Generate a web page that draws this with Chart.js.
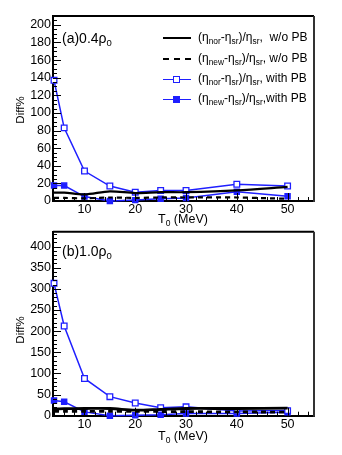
<!DOCTYPE html>
<html>
<head>
<meta charset="utf-8">
<script src="https://cdn.jsdelivr.net/npm/chart.js@4"></script>
<style>
  body { margin: 0; background: #fff; font-family: "Liberation Sans", Arial, sans-serif; }
  #wrap { position: relative; width: 342px; height: 455px; overflow: hidden; }
  canvas { position: absolute; left: 0; }
  .lbl { position: absolute; white-space: nowrap; color: #000; }
  .lbl sub { font-size: 0.68em; vertical-align: -0.35em; line-height: 0; }
  .leg { position: absolute; left: 163px; font-size: 12px; white-space: nowrap; }
  .leg .smp { position: absolute; left: 0; top: 0; width: 28px; height: 1px; }
  .leg .txt { position: absolute; left: 35px; top: -8px; }
  .leg sub { font-size: 0.7em; vertical-align: -0.35em; line-height: 0; }
  .ytitle { position: absolute; font-size: 11.5px; transform: translate(-50%, -50%) rotate(-90deg); }
</style>
</head>
<body>
<div id="wrap">
  <canvas id="top" width="342" height="222" style="top:0"></canvas>
  <canvas id="bot" width="342" height="233" style="top:222px"></canvas>

  <div class="lbl" style="left:62px; top:30px; font-size:14px">(a)0.4ρ<sub>0</sub></div>
  <div class="lbl" style="left:62px; top:243px; font-size:14px">(b)1.0ρ<sub>0</sub></div>

  <div class="ytitle" style="left:20px; top:110px">Diff%</div>
  <div class="ytitle" style="left:20px; top:330px">Diff%</div>

  <div class="lbl" style="left:158px; top:212px; font-size:12.5px">T<sub>0</sub> (MeV)</div>
  <div class="lbl" style="left:158px; top:429px; font-size:12.5px">T<sub>0</sub> (MeV)</div>

  <div class="leg" style="top:38px">
    <div class="smp" style="border-top:2.5px solid #000; top:-1px"></div>
    <div class="txt">(η<sub>nor</sub>-η<sub>sr</sub>)/η<sub>sr</sub>,&nbsp; w/o PB</div>
  </div>
  <div class="leg" style="top:59px">
    <div class="smp" style="border-top:2.5px dashed #000; top:-1px"></div>
    <div class="txt">(η<sub>new</sub>-η<sub>sr</sub>)/η<sub>sr</sub>, w/o PB</div>
  </div>
  <div class="leg" style="top:79px">
    <div class="smp" style="border-top:1.5px solid #1f1fff"></div>
    <div style="position:absolute; left:10px; top:-3px; width:5px; height:5px; border:1.3px solid #1f1fff; background:#fff"></div>
    <div class="txt">(η<sub>nor</sub>-η<sub>sr</sub>)/η<sub>sr</sub>, with PB</div>
  </div>
  <div class="leg" style="top:99px">
    <div class="smp" style="border-top:1.5px solid #1f1fff"></div>
    <div style="position:absolute; left:10px; top:-3px; width:7px; height:7px; background:#1f1fff"></div>
    <div class="txt">(η<sub>new</sub>-η<sub>sr</sub>)/η<sub>sr</sub>,with PB</div>
  </div>
</div>

<script>
// beam energies T0 (MeV)
const t0 = [4, 6, 10, 15, 20, 25, 30, 40, 50]

// (a) 0.4 rho0
const norNoPbA = [9.5, 9.5, 7.5, 11, 9, 10, 10, 12, 16]
const newNoPbA = [3.5, 3.5, 3, 4, 3.5, 4, 4, 4, 2.5]
const norPbA = [137, 83, 34, 17, 10, 12, 12, 19, 17]
const newPbA = [17.5, 17.5, 5, 0, 1, 2.5, 3.5, 10.5, 5.5]

// (b) 1.0 rho0
const norNoPbB = [16, 16.5, 17, 17, 13, 15, 17, 17, 18]
const newNoPbB = [10, 10, 10, 10, 10, 10, 9.5, 9, 8.5]
const norPbB = [313, 212, 88, 45, 30, 19, 21, 11, 12]
const newPbB = [36, 33, 9, 0, 1, 2, 5, 5, 8]

const xTicks = [10, 20, 30, 40, 50]
const yTicksA = [0, 20, 40, 60, 80, 100, 120, 140, 160, 180, 200]
const yTicksB = [0, 50, 100, 150, 200, 250, 300, 350, 400]

const BLUE = '#1f1fff'
const pts = arr => arr.map((v, i) => ({ x: t0[i], y: v }))

// ROOT-like frame: inward ticks + top/right border
const framePlugin = {
  id: 'frame',
  afterDraw(chart, args, opts) {
    const { ctx, chartArea: a, scales: { x, y } } = chart
    ctx.save()
    ctx.strokeStyle = '#000'
    ctx.lineWidth = 1
    ctx.beginPath()
    for (let v = 4; v <= x.max; v += 2) {
      const px = Math.round(x.getPixelForValue(v)) + 0.5
      const len = v % 10 === 0 ? 8 : 4
      ctx.moveTo(px, a.bottom)
      ctx.lineTo(px, a.bottom - len)
    }
    for (let v = 0; v <= y.max; v += opts.minor) {
      const py = Math.round(y.getPixelForValue(v)) + 0.5
      const len = v % opts.major === 0 ? 8 : 4
      ctx.moveTo(a.left, py)
      ctx.lineTo(a.left + len, py)
    }
    ctx.stroke()
    ctx.lineWidth = 2
    ctx.beginPath()
    ctx.moveTo(a.left, a.top)
    ctx.lineTo(a.right, a.top)
    ctx.stroke()
    ctx.strokeStyle = '#333'
    ctx.beginPath()
    ctx.moveTo(a.right, a.top)
    ctx.lineTo(a.right, a.bottom + 1)
    ctx.stroke()
    ctx.restore()
  }
}

function makeChart(id, d, yMax, yTicks, minor, major, areaTop, areaBottom, canvasH, blackW) {
  const ctx = document.getElementById(id).getContext('2d')
  return new Chart(ctx, {
    type: 'line',
    data: {
      datasets: [
        { data: pts(d[0]), borderColor: '#000', borderWidth: blackW, pointRadius: 0, tension: 0.3, clip: false },
        { data: pts(d[1]), borderColor: '#000', borderWidth: blackW, borderDash: [5, 4], pointRadius: 0, tension: 0.3, clip: false },
        { data: pts(d[2]), borderColor: BLUE, borderWidth: 1.5, pointStyle: 'rect', pointRadius: 4,
          pointBorderWidth: 1.3, pointBackgroundColor: '#fff', pointBorderColor: BLUE, clip: false },
        { data: pts(d[3]), borderColor: BLUE, borderWidth: 1.5, pointStyle: 'rect', pointRadius: 3.5,
          pointBackgroundColor: BLUE, pointBorderColor: BLUE, clip: false }
      ]
    },
    options: {
      responsive: false,
      animation: false,
      devicePixelRatio: 1,
      layout: { padding: { left: 0, right: 28, top: areaTop, bottom: 0 } },
      plugins: { legend: { display: false }, tooltip: { enabled: false }, frame: { minor, major } },
      scales: {
        x: {
          type: 'linear', min: 3.8, max: 55.2,
          afterFit: s => { s.height = canvasH - areaBottom },
          afterBuildTicks: s => { s.ticks = xTicks.map(v => ({ value: v })) },
          grid: { display: false, drawTicks: false },
          border: { display: true, color: '#000', width: 2 },
          ticks: { padding: 1, color: '#000', font: { family: 'Liberation Sans', size: 12.5 } }
        },
        y: {
          min: 0, max: yMax,
          afterFit: s => { s.width = 53 },
          afterBuildTicks: s => { s.ticks = yTicks.map(v => ({ value: v })) },
          grid: { display: false, drawTicks: false },
          border: { display: true, color: '#000', width: 2 },
          ticks: { padding: 2, color: '#000', font: { family: 'Liberation Sans', size: 12.5 } }
        }
      }
    },
    plugins: [framePlugin]
  })
}

makeChart('top', [norNoPbA, newNoPbA, norPbA, newPbA], 210, yTicksA, 5, 20, 16, 201, 222, 2.2)
makeChart('bot', [norNoPbB, newNoPbB, norPbB, newPbB], 435, yTicksB, 10, 50, 9.7, 193.7, 233, 2.8)
</script>
</body>
</html>
